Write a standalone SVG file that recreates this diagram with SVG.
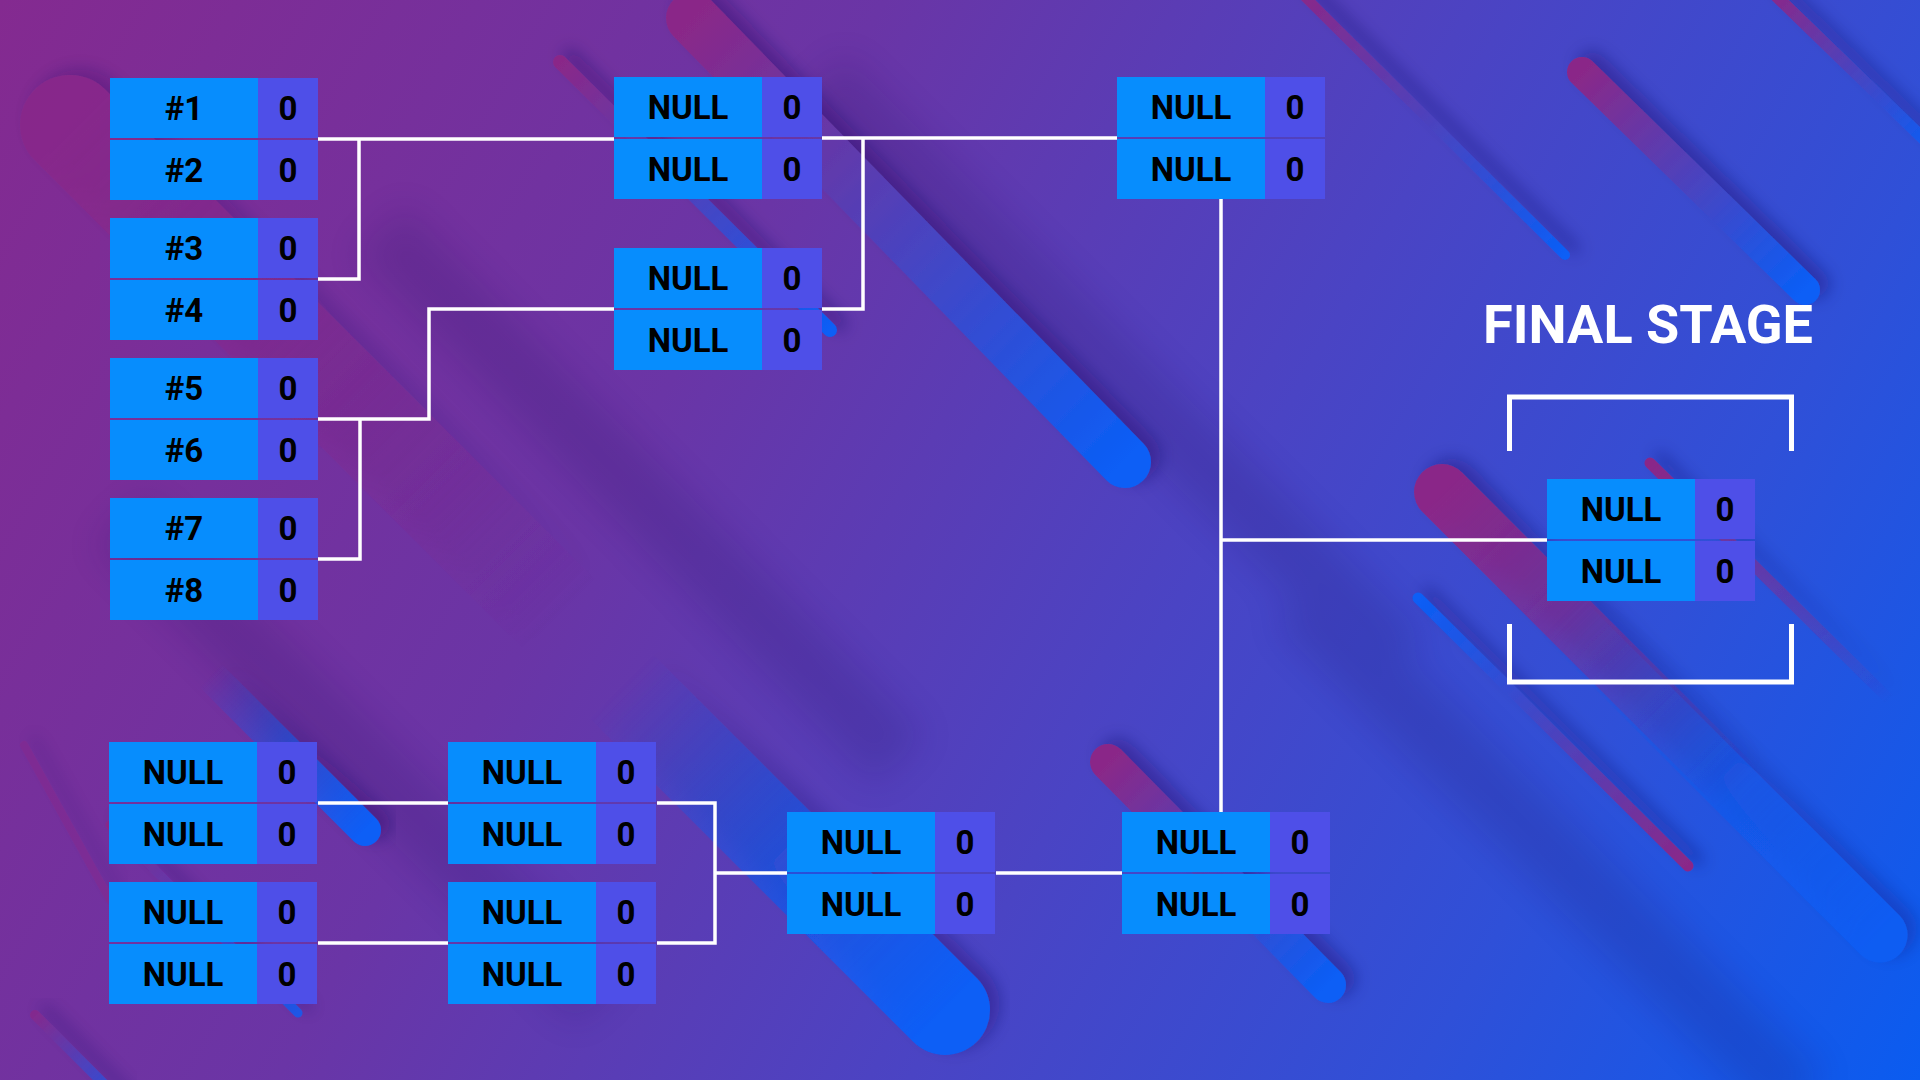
<svg xmlns="http://www.w3.org/2000/svg" width="1920" height="1080" viewBox="0 0 1920 1080">
  <defs>
    <linearGradient id="bg" gradientUnits="userSpaceOnUse" x1="0" y1="0" x2="1920" y2="1080">
      <stop offset="0" stop-color="#842a90"/>
      <stop offset="0.35" stop-color="#6a35a6"/>
      <stop offset="0.6" stop-color="#4a44c4"/>
      <stop offset="0.8" stop-color="#2f50d8"/>
      <stop offset="1" stop-color="#0a5cf0"/>
    </linearGradient>
    <linearGradient id="mb" x1="0" y1="0" x2="1" y2="1">
      <stop offset="0" stop-color="#8a2888"/>
      <stop offset="1" stop-color="#0a5ef6"/>
    </linearGradient>
    <linearGradient id="bm" x1="0" y1="0" x2="1" y2="1">
      <stop offset="0" stop-color="#0a5ef6"/>
      <stop offset="1" stop-color="#8a2888"/>
    </linearGradient>
    <linearGradient id="tb" x1="0" y1="0" x2="1" y2="1">
      <stop offset="0" stop-color="#0a5ef6" stop-opacity="0"/>
      <stop offset="1" stop-color="#0a5ef6"/>
    </linearGradient>
    <linearGradient id="mt" x1="0" y1="0" x2="1" y2="1">
      <stop offset="0" stop-color="#8a2888"/>
      <stop offset="1" stop-color="#8a2888" stop-opacity="0"/>
    </linearGradient>
    <filter id="sh" x="-20%" y="-20%" width="140%" height="140%">
      <feDropShadow dx="10" dy="-6" stdDeviation="8" flood-color="#1a1060" flood-opacity="0.35"/>
    </filter>
    <filter id="blur" x="-20%" y="-20%" width="140%" height="140%">
      <feGaussianBlur stdDeviation="18"/>
    </filter>
    <style>
      .l { fill: #078dfd; }
      .r { fill: #4e4fe8; }
      .t { font-family: Roboto, "Liberation Sans", sans-serif; font-weight: bold; font-size: 33px; fill: #000; text-anchor: middle; }
      .c { fill: none; stroke: #fff; stroke-width: 3.5; }
      .f { fill: none; stroke: #fff; stroke-width: 5; }
      .s { fill: none; stroke-linecap: round; filter: url(#sh); }
      .title { font-family: Roboto, "Liberation Sans", sans-serif; font-weight: bold; font-size: 54px; fill: #fff; text-anchor: middle; }
    </style>
  </defs>

  <g id="background">
    <rect width="1920" height="1080" fill="url(#bg)"/>
    <g filter="url(#blur)" opacity="0.16" stroke="#1d1060" stroke-width="70" fill="none">
      <line x1="380" y1="230" x2="900" y2="760"/>
      <line x1="820" y1="80" x2="1400" y2="660"/>
      <line x1="120" y1="520" x2="600" y2="1000"/>
      <line x1="1300" y1="600" x2="1800" y2="1100"/>
    </g>
    <line class="s" x1="70" y1="125" x2="560" y2="615" stroke="url(#mt)" stroke-width="100" opacity="0.7"/>
    <line class="s" x1="692" y1="18" x2="1125" y2="462" stroke="url(#mb)" stroke-width="52"/>
    <line class="s" x1="560" y1="62" x2="830" y2="330" stroke="url(#mb)" stroke-width="14"/>
    <line class="s" x1="1582" y1="72" x2="1805" y2="290" stroke="url(#mb)" stroke-width="30"/>
    <line class="s" x1="1300" y1="-8" x2="1565" y2="255" stroke="url(#mb)" stroke-width="10"/>
    <line class="s" x1="1772" y1="-8" x2="1935" y2="150" stroke="url(#mb)" stroke-width="12"/>
    <line class="s" x1="1442" y1="492" x2="1740" y2="790" stroke="url(#mt)" stroke-width="56"/>
    <line class="s" x1="1650" y1="463" x2="1890" y2="700" stroke="url(#mt)" stroke-width="11"/>
    <line class="s" x1="1418" y1="598" x2="1688" y2="866" stroke="url(#bm)" stroke-width="11"/>
    <line class="s" x1="210" y1="675" x2="365" y2="830" stroke="url(#tb)" stroke-width="32"/>
    <line class="s" x1="110" y1="825" x2="298" y2="1013" stroke="url(#mb)" stroke-width="9" opacity="0.8"/>
    <line class="s" x1="1108" y1="762" x2="1328" y2="985" stroke="url(#mb)" stroke-width="36"/>
    <line class="s" x1="620" y1="685" x2="945" y2="1010" stroke="url(#tb)" stroke-width="90"/>
    <line class="s" x1="1560" y1="615" x2="1880" y2="935" stroke="url(#tb)" stroke-width="55" opacity="0.7"/>
    <line class="s" x1="35" y1="1015" x2="120" y2="1100" stroke="url(#mb)" stroke-width="10" opacity="0.7"/>
    <line class="s" x1="24" y1="745" x2="110" y2="900" stroke="#8a2888" stroke-width="8" opacity="0.4"/>
  </g>

  <g id="connectors">
    <path class="c" d="M318,139 H614 M359,139 V279 H318"/>
    <path class="c" d="M318,559 H360 V419 H318 M360,419 H429 V309 H614"/>
    <path class="c" d="M822,138 H1117 M863,138 V309 H822"/>
    <path class="c" d="M1221,199 V812 M1221,540 H1547"/>
    <path class="c" d="M318,803 H448 M318,943 H448"/>
    <path class="c" d="M657,803 H715 V943 H657 M715,873 H787"/>
    <path class="c" d="M996,873 H1122"/>
  </g>

  <g id="final-frame">
    <path class="f" d="M1509.5,451 V397 H1791.5 V451"/>
    <path class="f" d="M1509.5,624 V682 H1791.5 V624"/>
    <text class="title" x="1648" y="343">FINAL STAGE</text>
  </g>

  <g id="r1-m1" transform="translate(110,78)">
    <rect class="l" width="148" height="60"/><rect class="r" x="148" width="60" height="60"/>
    <rect class="l" y="62" width="148" height="60"/><rect class="r" x="148" y="62" width="60" height="60"/>
    <text class="t" x="74" y="42">#1</text><text class="t" x="178" y="42">0</text>
    <text class="t" x="74" y="104">#2</text><text class="t" x="178" y="104">0</text>
  </g>
  <g id="r1-m2" transform="translate(110,218)">
    <rect class="l" width="148" height="60"/><rect class="r" x="148" width="60" height="60"/>
    <rect class="l" y="62" width="148" height="60"/><rect class="r" x="148" y="62" width="60" height="60"/>
    <text class="t" x="74" y="42">#3</text><text class="t" x="178" y="42">0</text>
    <text class="t" x="74" y="104">#4</text><text class="t" x="178" y="104">0</text>
  </g>
  <g id="r1-m3" transform="translate(110,358)">
    <rect class="l" width="148" height="60"/><rect class="r" x="148" width="60" height="60"/>
    <rect class="l" y="62" width="148" height="60"/><rect class="r" x="148" y="62" width="60" height="60"/>
    <text class="t" x="74" y="42">#5</text><text class="t" x="178" y="42">0</text>
    <text class="t" x="74" y="104">#6</text><text class="t" x="178" y="104">0</text>
  </g>
  <g id="r1-m4" transform="translate(110,498)">
    <rect class="l" width="148" height="60"/><rect class="r" x="148" width="60" height="60"/>
    <rect class="l" y="62" width="148" height="60"/><rect class="r" x="148" y="62" width="60" height="60"/>
    <text class="t" x="74" y="42">#7</text><text class="t" x="178" y="42">0</text>
    <text class="t" x="74" y="104">#8</text><text class="t" x="178" y="104">0</text>
  </g>
  <g id="r2-m1" transform="translate(614,77)">
    <rect class="l" width="148" height="60"/><rect class="r" x="148" width="60" height="60"/>
    <rect class="l" y="62" width="148" height="60"/><rect class="r" x="148" y="62" width="60" height="60"/>
    <text class="t" x="74" y="42">NULL</text><text class="t" x="178" y="42">0</text>
    <text class="t" x="74" y="104">NULL</text><text class="t" x="178" y="104">0</text>
  </g>
  <g id="r2-m2" transform="translate(614,248)">
    <rect class="l" width="148" height="60"/><rect class="r" x="148" width="60" height="60"/>
    <rect class="l" y="62" width="148" height="60"/><rect class="r" x="148" y="62" width="60" height="60"/>
    <text class="t" x="74" y="42">NULL</text><text class="t" x="178" y="42">0</text>
    <text class="t" x="74" y="104">NULL</text><text class="t" x="178" y="104">0</text>
  </g>
  <g id="r3-m1" transform="translate(1117,77)">
    <rect class="l" width="148" height="60"/><rect class="r" x="148" width="60" height="60"/>
    <rect class="l" y="62" width="148" height="60"/><rect class="r" x="148" y="62" width="60" height="60"/>
    <text class="t" x="74" y="42">NULL</text><text class="t" x="178" y="42">0</text>
    <text class="t" x="74" y="104">NULL</text><text class="t" x="178" y="104">0</text>
  </g>
  <g id="final" transform="translate(1547,479)">
    <rect class="l" width="148" height="60"/><rect class="r" x="148" width="60" height="60"/>
    <rect class="l" y="62" width="148" height="60"/><rect class="r" x="148" y="62" width="60" height="60"/>
    <text class="t" x="74" y="42">NULL</text><text class="t" x="178" y="42">0</text>
    <text class="t" x="74" y="104">NULL</text><text class="t" x="178" y="104">0</text>
  </g>
  <g id="lb-r1-m1" transform="translate(109,742)">
    <rect class="l" width="148" height="60"/><rect class="r" x="148" width="60" height="60"/>
    <rect class="l" y="62" width="148" height="60"/><rect class="r" x="148" y="62" width="60" height="60"/>
    <text class="t" x="74" y="42">NULL</text><text class="t" x="178" y="42">0</text>
    <text class="t" x="74" y="104">NULL</text><text class="t" x="178" y="104">0</text>
  </g>
  <g id="lb-r1-m2" transform="translate(109,882)">
    <rect class="l" width="148" height="60"/><rect class="r" x="148" width="60" height="60"/>
    <rect class="l" y="62" width="148" height="60"/><rect class="r" x="148" y="62" width="60" height="60"/>
    <text class="t" x="74" y="42">NULL</text><text class="t" x="178" y="42">0</text>
    <text class="t" x="74" y="104">NULL</text><text class="t" x="178" y="104">0</text>
  </g>
  <g id="lb-r2-m1" transform="translate(448,742)">
    <rect class="l" width="148" height="60"/><rect class="r" x="148" width="60" height="60"/>
    <rect class="l" y="62" width="148" height="60"/><rect class="r" x="148" y="62" width="60" height="60"/>
    <text class="t" x="74" y="42">NULL</text><text class="t" x="178" y="42">0</text>
    <text class="t" x="74" y="104">NULL</text><text class="t" x="178" y="104">0</text>
  </g>
  <g id="lb-r2-m2" transform="translate(448,882)">
    <rect class="l" width="148" height="60"/><rect class="r" x="148" width="60" height="60"/>
    <rect class="l" y="62" width="148" height="60"/><rect class="r" x="148" y="62" width="60" height="60"/>
    <text class="t" x="74" y="42">NULL</text><text class="t" x="178" y="42">0</text>
    <text class="t" x="74" y="104">NULL</text><text class="t" x="178" y="104">0</text>
  </g>
  <g id="lb-r3-m1" transform="translate(787,812)">
    <rect class="l" width="148" height="60"/><rect class="r" x="148" width="60" height="60"/>
    <rect class="l" y="62" width="148" height="60"/><rect class="r" x="148" y="62" width="60" height="60"/>
    <text class="t" x="74" y="42">NULL</text><text class="t" x="178" y="42">0</text>
    <text class="t" x="74" y="104">NULL</text><text class="t" x="178" y="104">0</text>
  </g>
  <g id="lb-r4-m1" transform="translate(1122,812)">
    <rect class="l" width="148" height="60"/><rect class="r" x="148" width="60" height="60"/>
    <rect class="l" y="62" width="148" height="60"/><rect class="r" x="148" y="62" width="60" height="60"/>
    <text class="t" x="74" y="42">NULL</text><text class="t" x="178" y="42">0</text>
    <text class="t" x="74" y="104">NULL</text><text class="t" x="178" y="104">0</text>
  </g>
</svg>
